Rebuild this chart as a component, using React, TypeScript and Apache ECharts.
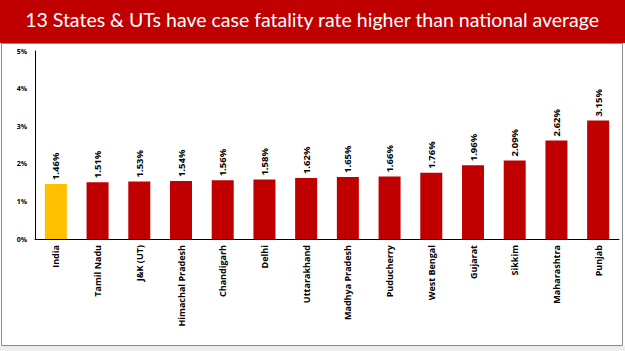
import React, { useEffect, useRef } from "react";
import * as echarts from "echarts";

const categories = ["India", "Tamil Nadu", "J&K (UT)", "Himachal Pradesh", "Chandigarh", "Delhi", "Uttarakhand", "Madhya Pradesh", "Puducherry", "West Bengal", "Gujarat", "Sikkim", "Maharashtra", "Punjab"];
const values = [1.46, 1.51, 1.53, 1.54, 1.56, 1.58, 1.62, 1.65, 1.66, 1.76, 1.96, 2.09, 2.62, 3.15];
const yTicks = [0, 1, 2, 3, 4, 5];
const titleText = "13 States & UTs have case fatality rate higher than national average";

export default function App() {
  const ref = useRef<HTMLDivElement>(null);
  useEffect(() => {
    const chart = echarts.init(ref.current!, null, { renderer: "svg" });
    chart.setOption({
      animation: false,
      backgroundColor: "#ffffff",
      graphic: [
        { type: "rect", shape: { x: 0, y: 0, width: 625, height: 43 }, style: { fill: "#C00000" }, z: 0 },
        { type: "rect", shape: { x: 0, y: 346, width: 625, height: 5 }, style: { fill: "#eeeeee" }, z: 0 },
        { type: "rect", shape: { x: 1.5, y: 43.5, width: 621, height: 302 }, style: { fill: "none", stroke: "#8a8a8a", lineWidth: 1 }, z: 0 },
        {
          type: "text", left: "center", top: 9,
          style: { text: titleText, fill: "#ffffff", font: "19.5px Lato, 'Open Sans', sans-serif" }, z: 10,
        },
      ],
      grid: { left: 35, right: 6, top: 51, bottom: 112, containLabel: false },
      xAxis: {
        type: "category",
        data: categories,
        axisLine: { lineStyle: { color: "#000", width: 1 } },
        axisTick: { show: false },
        axisLabel: { rotate: 90, interval: 0, fontSize: 9, fontWeight: "bold", color: "#000", fontFamily: "'Open Sans', sans-serif", margin: 6 },
      },
      yAxis: {
        type: "value", min: yTicks[0], max: yTicks[yTicks.length - 1], interval: 1,
        axisLine: { show: true, lineStyle: { color: "#000", width: 1 } },
        axisTick: { show: false },
        splitLine: { show: false },
        axisLabel: { formatter: "{value}%", fontSize: 7, fontWeight: "bold", color: "#000", fontFamily: "'Open Sans', sans-serif", margin: 8 },
      },
      series: [{
        type: "bar",
        data: values.map((v, i) => ({ value: v, itemStyle: { color: i === 0 ? "#FFC000" : "#C00000" } })),
        barWidth: 22,
        label: {
          show: true, position: "top", rotate: 90, align: "left", verticalAlign: "middle",
          distance: 4, formatter: (p: any) => p.value.toFixed(2) + "%",
          fontSize: 9.5, fontWeight: "bold", color: "#000", fontFamily: "'Open Sans', sans-serif",
        },
      }],
    });
    return () => chart.dispose();
  }, []);
  return <div ref={ref} style={{ position: "fixed", left: 0, top: 0, width: 625, height: 351 }} />;
}
